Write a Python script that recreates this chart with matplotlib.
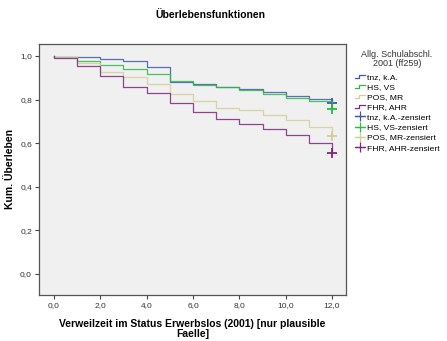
import matplotlib
matplotlib.use("Agg")
import matplotlib.pyplot as plt
from matplotlib.lines import Line2D
from matplotlib.legend_handler import HandlerBase

plt.rcParams["font.family"] = ["Liberation Sans", "DejaVu Sans"]

# months 0..12, survival value on each interval, last = value at t=12 (censored)
months = list(range(13))
groups = ["tnz, k.A.", "HS, VS", "POS, MR", "FHR, AHR"]
surv_tnz = [0.997, 0.995, 0.984, 0.977, 0.948, 0.880, 0.870, 0.860, 0.848, 0.833, 0.817, 0.801, 0.785]
surv_hs  = [0.995, 0.975, 0.959, 0.939, 0.917, 0.885, 0.868, 0.857, 0.845, 0.826, 0.808, 0.792, 0.755]
surv_pos = [0.994, 0.969, 0.925, 0.902, 0.872, 0.826, 0.793, 0.760, 0.752, 0.729, 0.706, 0.676, 0.633]
surv_fhr = [0.990, 0.952, 0.906, 0.856, 0.831, 0.786, 0.745, 0.710, 0.690, 0.664, 0.636, 0.600, 0.555]
colors = ["#3e58ac", "#2eb848", "#d3ce97", "#7c287d"]

yticks = [0.0, 0.2, 0.4, 0.6, 0.8, 1.0]
xticks = [0, 2, 4, 6, 8, 10, 12]


class StepHandler(HandlerBase):
    """legend glyph shaped like a small survival step"""
    def create_artists(self, legend, orig, xd, yd, w, h, fontsize, trans):
        xs = [xd, xd + w * 0.4, xd + w * 0.4, xd + w]
        ys = [yd + h * 0.2, yd + h * 0.2, yd + h * 0.8, yd + h * 0.8]
        ln = Line2D(xs, ys, color=orig.get_color(), lw=0.9, transform=trans)
        return [ln]


fig = plt.figure(figsize=(4.47, 3.41), dpi=100)
ax = fig.add_axes([0.087, 0.135, 0.687, 0.736])
ax.set_facecolor("#f0f0f0")

series = [surv_tnz, surv_hs, surv_pos, surv_fhr]
handles_line, handles_cens = [], []
for name, vals, c in zip(groups, series, colors):
    xs = [0] + months
    ys = [1.0] + vals
    l, = ax.step(xs, ys, where="post", color=c, lw=0.9, alpha=0.85)
    ax.plot([months[-1]], [vals[-1]], marker="+", ms=7, mew=1.3, color=c, ls="none")
    handles_line.append(l)
    handles_cens.append(Line2D([], [], color=c, lw=0.9, marker="+", ms=7, mew=0.9))

ax.set_xlim(-0.65, 12.6)
ax.set_ylim(-0.096, 1.055)
ax.set_xticks(xticks)
ax.set_yticks(yticks)
ax.set_xticklabels([f"{v:.1f}".replace(".", ",") for v in xticks], fontsize=6)
ax.set_yticklabels([f"{v:.1f}".replace(".", ",") for v in yticks], fontsize=6)
ax.tick_params(length=3, width=0.8, color="#444444", pad=2, labelcolor="#333333")
for s in ax.spines.values():
    s.set_color("#555555")
    s.set_linewidth(0.9)

ax.set_xlabel("Verweilzeit im Status Erwerbslos (2001) [nur plausible\nFaelle]",
              fontsize=7.5, fontweight="bold", labelpad=7, linespacing=1.05)
ax.set_ylabel("Kum. Überleben", fontsize=7.5, fontweight="bold", labelpad=4)
fig.text(0.47, 0.955, "Überlebensfunktionen", ha="center", va="center",
         fontsize=7.5, fontweight="bold")

labels = groups + [g + "-zensiert" for g in groups]
hmap = {h: StepHandler() for h in handles_line}
fig.legend(handles_line + handles_cens, labels, loc="upper left",
           bbox_to_anchor=(0.795, 0.785), frameon=False, fontsize=6.1,
           handlelength=1.1, handletextpad=0.3, labelspacing=0.25,
           borderpad=0, borderaxespad=0, handler_map=hmap)
fig.text(0.888, 0.826, "Allg. Schulabschl.\n2001 (ff259)", ha="center", va="center",
         fontsize=6.5, linespacing=1.0, color="#333333")

fig.savefig("out.png", dpi=100)
